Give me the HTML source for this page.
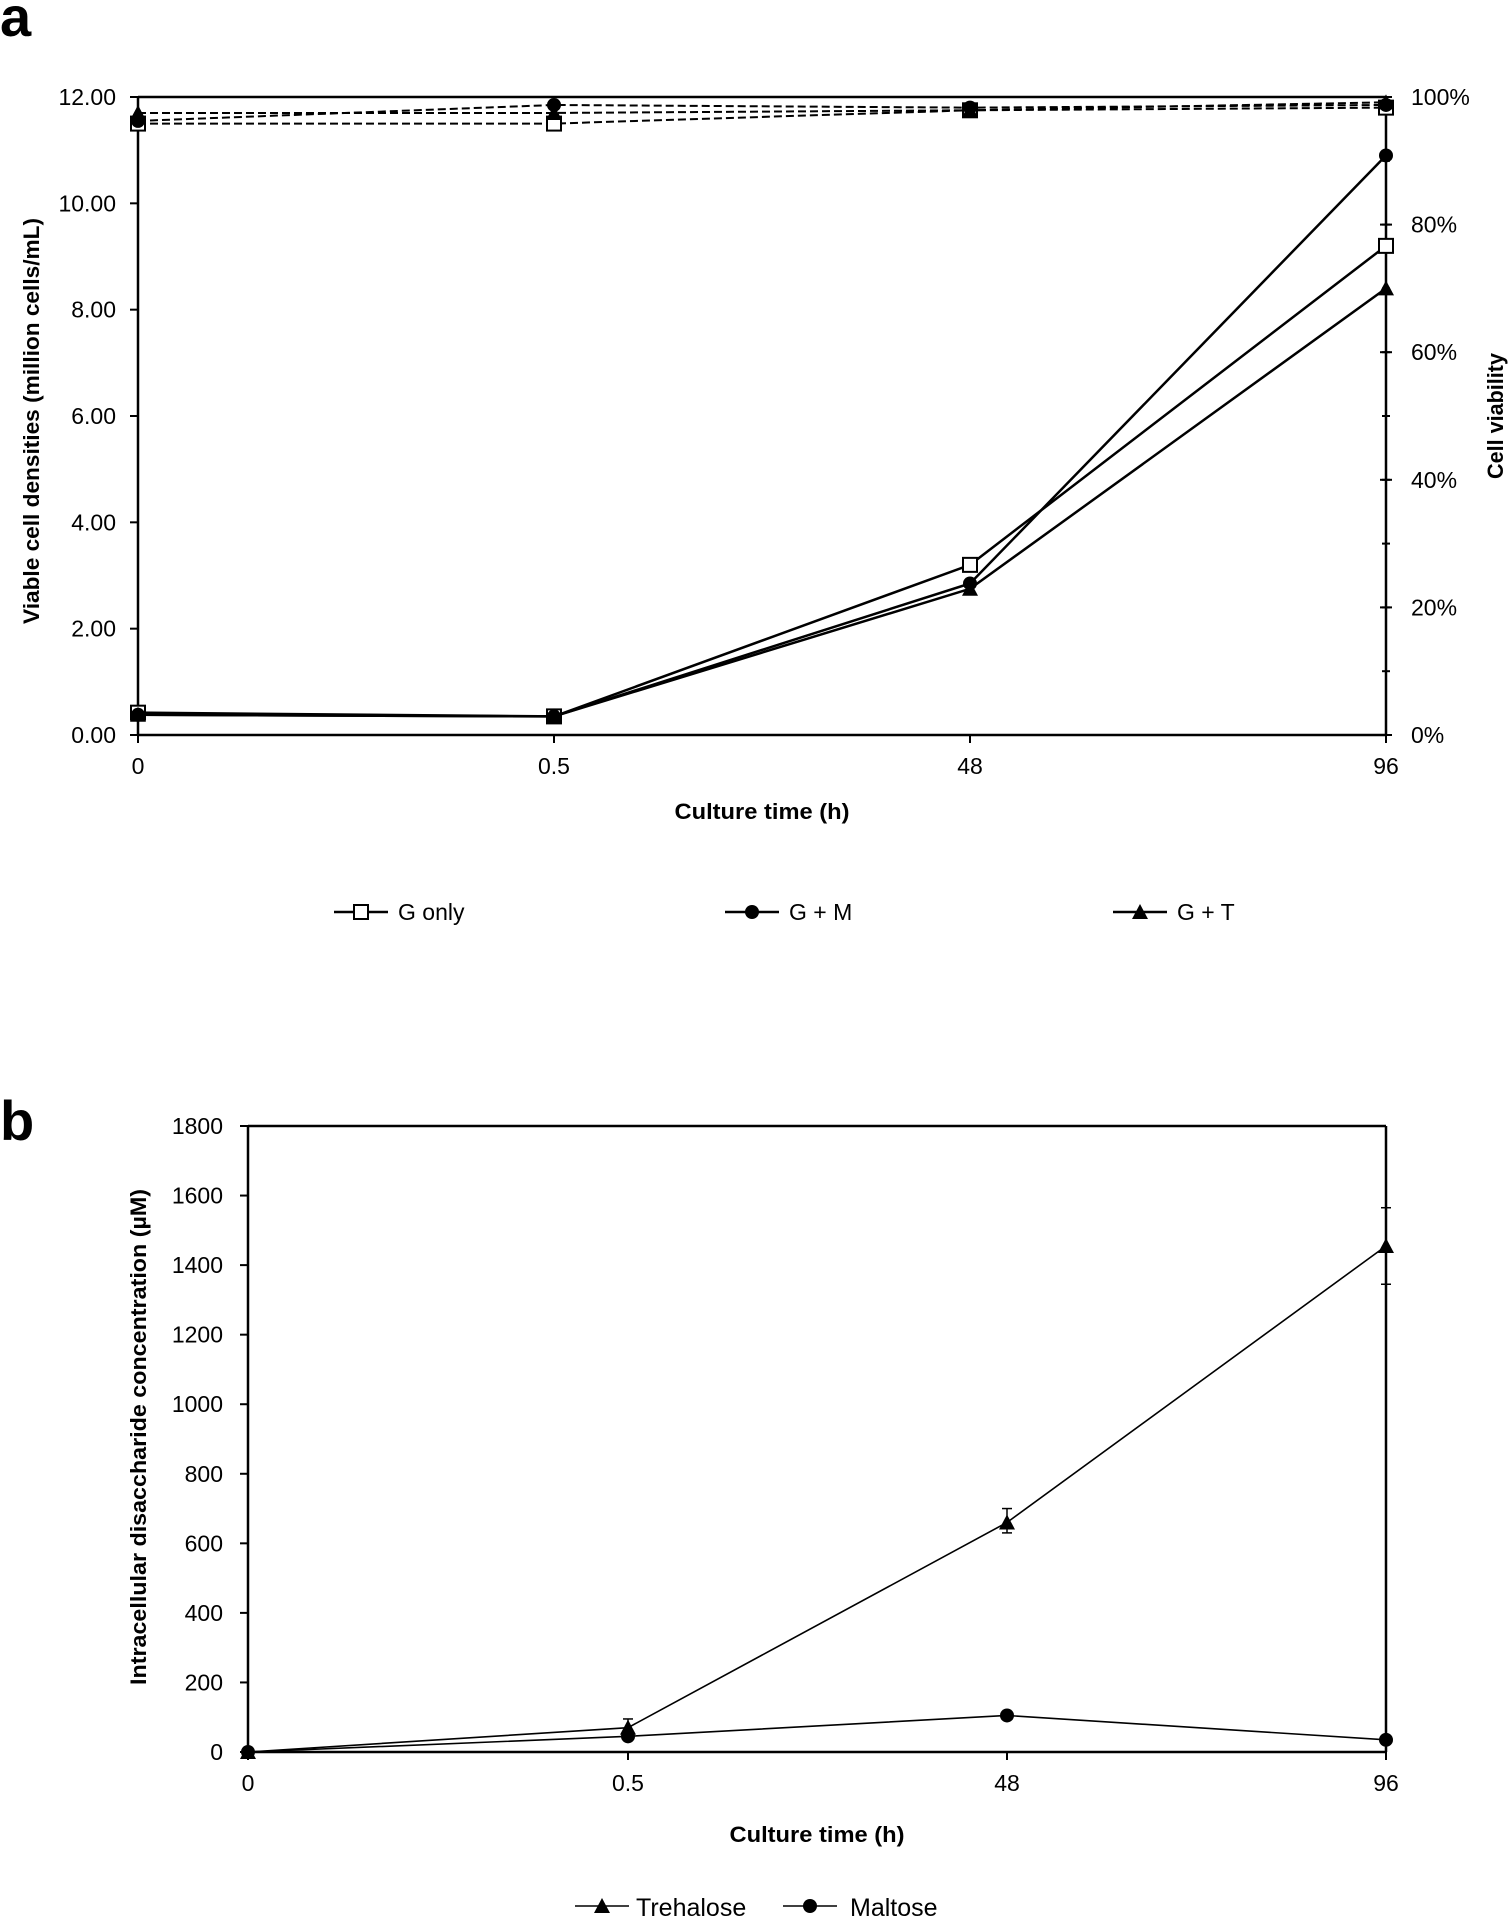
<!DOCTYPE html>
<html><head><meta charset="utf-8">
<style>
html,body{margin:0;padding:0;background:#fff;}
svg{display:block;font-family:"Liberation Sans",sans-serif;}
</style></head>
<body>
<svg id="s" width="1511" height="1921" viewBox="0 0 1511 1921" xmlns="http://www.w3.org/2000/svg"></svg>
<script>
var out=[];
function L(x1,y1,x2,y2,w,d){out.push('<line x1="'+x1+'" y1="'+y1+'" x2="'+x2+'" y2="'+y2+'" stroke="#000" stroke-width="'+(w||2)+'"'+(d?' stroke-dasharray="'+d+'"':'')+'/>');}
function T(x,y,s,sz,anc,bold,extra){out.push('<text x="'+x+'" y="'+y+'" font-size="'+sz+'" text-anchor="'+(anc||'start')+'"'+(bold?' font-weight="bold"':'')+(extra||'')+'>'+s+'</text>');}
function mk(type,x,y,r){r=r||7;
 if(type=='sq')out.push('<rect x="'+(x-r)+'" y="'+(y-r)+'" width="'+(2*r)+'" height="'+(2*r)+'" fill="#fff" stroke="#000" stroke-width="2"/>');
 else if(type=='ci')out.push('<circle cx="'+x+'" cy="'+y+'" r="'+r+'" fill="#000"/>');
 else out.push('<polygon points="'+x+','+(y-r-1)+' '+(x+r+1)+','+(y+r)+' '+(x-r-1)+','+(y+r)+'" fill="#000"/>');}
function poly(pts,w,d){out.push('<polyline points="'+pts.map(p=>p.join(',')).join(' ')+'" fill="none" stroke="#000" stroke-width="'+w+'"'+(d?' stroke-dasharray="'+d+'"':'')+'/>');}
var FS=23;
// ---- Chart a
var ax=[138,554,970,1386], aT=97, aB=735;
function ay(v){return aB-(aB-aT)*v/12;}
T(0,36,'a',56,'start',true);
L(138,aT,1386,aT,2.5);L(138,aT,138,aB,2.5);L(1386,aT,1386,aB,2.5);L(138,aB,1386,aB,2.5);
for(var i=0;i<=6;i++){var y=ay(i*2);L(130,y,138,y,2);T(116,y+8,(i*2).toFixed(2),FS,'end');}
for(var i=0;i<=5;i++){var y=ay(i*2.4);L(1380,y,1392,y,2);T(1411,y+8,(i*20)+'%',FS,'start');}
for(var i=0;i<=10;i++){var y=ay(i*1.2);L(1382,y,1390,y,2);}
['0','0.5','48','96'].forEach((s,i)=>{L(ax[i],aB,ax[i],aB+8,2);T(ax[i],774,s,FS,'middle');});
T(762,819,'Culture time (h)',22,'middle',true,' textLength="175" lengthAdjust="spacingAndGlyphs"');
T(0,0,'Viable cell densities (million cells/mL)',22,'middle',true,' transform="translate(39,421) rotate(-90)" textLength="406" lengthAdjust="spacingAndGlyphs"');
T(0,0,'Cell viability',22,'middle',true,' transform="translate(1503,416) rotate(-90)" textLength="126" lengthAdjust="spacingAndGlyphs"');
var vd={sq:[[11.5,11.5,11.75,11.8],[0.42,0.35,3.2,9.2]],ci:[[11.55,11.85,11.8,11.85],[0.38,0.35,2.85,10.9]],tr:[[11.7,11.7,11.75,11.9],[0.38,0.35,2.75,8.4]]};
for(var k in vd){poly(vd[k][0].map((v,i)=>[ax[i],ay(v)]),2,'8,4');}
for(var k in vd){poly(vd[k][1].map((v,i)=>[ax[i],ay(v)]),2.5);}
L(1386,ay(8.5),1386,ay(9.9),2);
for(var k in vd){vd[k][0].forEach((v,i)=>mk(k,ax[i],ay(v)));vd[k][1].forEach((v,i)=>mk(k,ax[i],ay(v)));}
[[334,'sq','G only'],[725,'ci','G + M'],[1113,'tr','G + T']].forEach(l=>{L(l[0],912,l[0]+54,912,2.5);mk(l[1],l[0]+27,912);T(l[0]+64,920,l[2],FS);});
// ---- Chart b
var bx=[248,628,1007,1386], bT=1126, bB=1752;
function by(v){return bB-(bB-bT)*v/1800;}
T(0,1140,'b',56,'start',true);
L(248,bT,1386,bT,2.5);L(248,bT,248,bB,2.5);L(1386,bT,1386,bB,2.5);L(248,bB,1386,bB,2.5);
for(var i=0;i<=9;i++){var y=by(i*200);L(240,y,248,y,2);T(223,y+8,String(i*200),FS,'end');}
['0','0.5','48','96'].forEach((s,i)=>{L(bx[i],bB,bx[i],bB+8,2);T(bx[i],1791,s,FS,'middle');});
T(817,1842,'Culture time (h)',22,'middle',true,' textLength="175" lengthAdjust="spacingAndGlyphs"');
T(0,0,'Intracellular disaccharide concentration (µM)',22,'middle',true,' transform="translate(146,1437) rotate(-90)" textLength="496" lengthAdjust="spacingAndGlyphs"');
var tre=[0,70,660,1455], mal=[0,45,105,35];
poly(tre.map((v,i)=>[bx[i],by(v)]),1.6);poly(mal.map((v,i)=>[bx[i],by(v)]),1.6);
[[1,50,95],[2,630,700],[3,1345,1565]].forEach(e=>{var x=bx[e[0]];L(x,by(e[1]),x,by(e[2]),1.5);L(x-5,by(e[1]),x+5,by(e[1]),1.5);L(x-5,by(e[2]),x+5,by(e[2]),1.5);});
tre.forEach((v,i)=>mk('tr',bx[i],by(v)));mal.forEach((v,i)=>mk('ci',bx[i],by(v)));
L(575,1906,629,1906,1.6);mk('tr',602,1906);T(636,1916,'Trehalose',25);
L(783,1906,837,1906,1.6);mk('ci',810,1906);T(850,1916,'Maltose',25);
document.getElementById('s').innerHTML=out.join('');
</script>
</body></html>
